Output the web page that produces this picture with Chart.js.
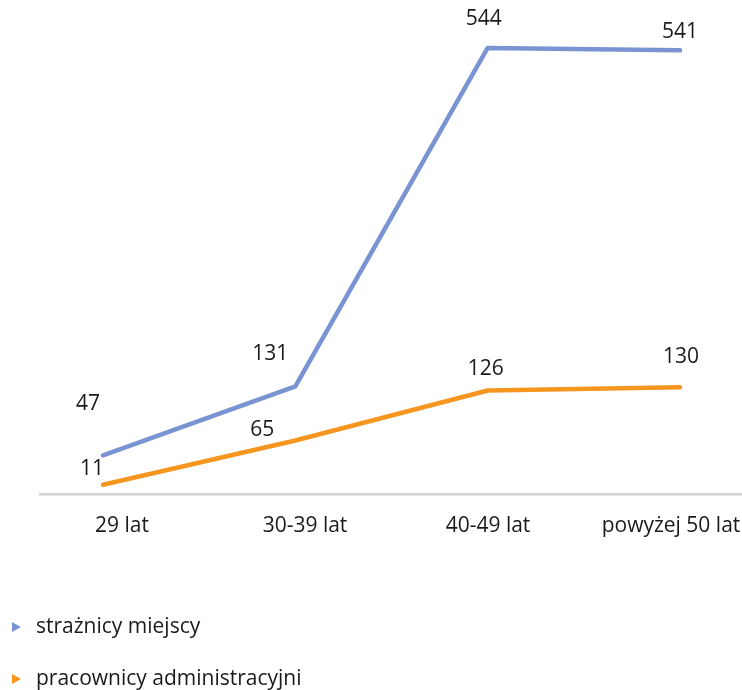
<!DOCTYPE html>
<html>
<head>
<meta charset="utf-8">
<script src="https://cdn.jsdelivr.net/npm/chart.js@4.4.0/dist/chart.umd.min.js"></script>
<style>
    html, body { margin: 0; padding: 0; background: #fff; }
    #wrap { width: 742px; height: 690px; position: relative; }
</style>
</head>
<body>
<div id="wrap"><canvas id="canvas_wiek"></canvas></div>
<script>
    // dane: struktura wieku
    const kategorie = ['29 lat', '30-39 lat', '40-49 lat', 'powyżej 50 lat'];
    const nazwySerii = ['strażnicy miejscy', 'pracownicy administracyjni'];
    const straznicyMiejscy = [47, 131, 544, 541];
    const pracownicyAdm = [11, 65, 126, 130];

    const kolory = ['#7a93d2', '#f7961f'];
    const czcionka = '"Open Sans", "Noto Sans", sans-serif';

    // przesunięcia etykiet wartości względem punktu (dx, dy)
    const przesuniecia = [
        [[-15, -51], [-25, -32], [-4, -29], [0, -18]],
        [[-11, -16], [-33, -11], [-2, -22], [1, -30]]
    ];

    const etykietyWartosci = {
        id: 'etykietyWartosci',
        afterDatasetsDraw(chart) {
            const ctx = chart.ctx;
            ctx.save();
            ctx.font = '21px ' + czcionka;
            ctx.fillStyle = '#1a1a1a';
            ctx.textAlign = 'center';
            ctx.textBaseline = 'middle';
            chart.data.datasets.forEach((ds, d) => {
                chart.getDatasetMeta(d).data.forEach((pt, i) => {
                    const off = przesuniecia[d][i];
                    ctx.fillText(String(ds.data[i].y), pt.x + off[0], pt.y + off[1]);
                });
            });
            ctx.restore();
        }
    };

    // legenda pod wykresem, każda seria w osobnym wierszu
    const legenda = {
        id: 'legenda',
        afterDraw(chart) {
            const ctx = chart.ctx;
            ctx.save();
            ctx.font = '21px ' + czcionka;
            ctx.textBaseline = 'middle';
            ctx.textAlign = 'left';
            chart.data.datasets.forEach((ds, d) => {
                const y = 627 + d * 52;
                ctx.fillStyle = ds.borderColor;
                ctx.beginPath();
                ctx.moveTo(12, y - 5);
                ctx.lineTo(21, y);
                ctx.lineTo(12, y + 5);
                ctx.closePath();
                ctx.fill();
                ctx.fillStyle = '#1a1a1a';
                ctx.fillText(ds.label, 36, y);
            });
            ctx.restore();
        }
    };

    const zbiory = [straznicyMiejscy, pracownicyAdm].map((wartosci, d) => ({
        label: nazwySerii[d],
        data: wartosci.map((v, i) => ({ x: i, y: v })),
        borderColor: kolory[d],
        backgroundColor: kolory[d],
        borderWidth: 4.5,
        borderCapStyle: 'round',
        borderJoinStyle: 'round',
        pointRadius: 0,
        tension: 0,
        xAxisID: 'x'
    }));

    const wykres = new Chart(document.getElementById('canvas_wiek'), {
        type: 'line',
        data: { datasets: zbiory },
        options: {
            responsive: true,
            maintainAspectRatio: false,
            animation: false,
            layout: {
                autoPadding: false,
                padding: { left: 40, right: 0, top: 2, bottom: 131 }
            },
            plugins: {
                legend: { display: false },
                tooltip: { enabled: false }
            },
            scales: {
                x: {
                    type: 'linear',
                    display: false,
                    min: -0.3276,
                    max: 3.3224
                },
                xl: {
                    type: 'linear',
                    position: 'bottom',
                    min: -0.448,
                    max: 3.388,
                    afterBuildTicks: (axis) => {
                        axis.ticks = kategorie.map((_, i) => ({ value: i }));
                    },
                    // bez rezerwy na ostatni napis, oś ma sięgać prawej krawędzi
                    afterFit: (axis) => {
                        axis.paddingLeft = 0;
                        axis.paddingRight = 0;
                    },
                    grid: { display: false, drawTicks: false },
                    border: { display: true, color: '#d3d3d3', width: 2.5 },
                    ticks: {
                        autoSkip: false,
                        maxRotation: 0,
                        padding: 20,
                        color: '#1a1a1a',
                        font: { family: czcionka, size: 21 },
                        callback: (v) => kategorie[v]
                    }
                },
                y: {
                    display: false,
                    min: 0,
                    max: 600
                }
            }
        },
        plugins: [etykietyWartosci, legenda]
    });
</script>
</body>
</html>
